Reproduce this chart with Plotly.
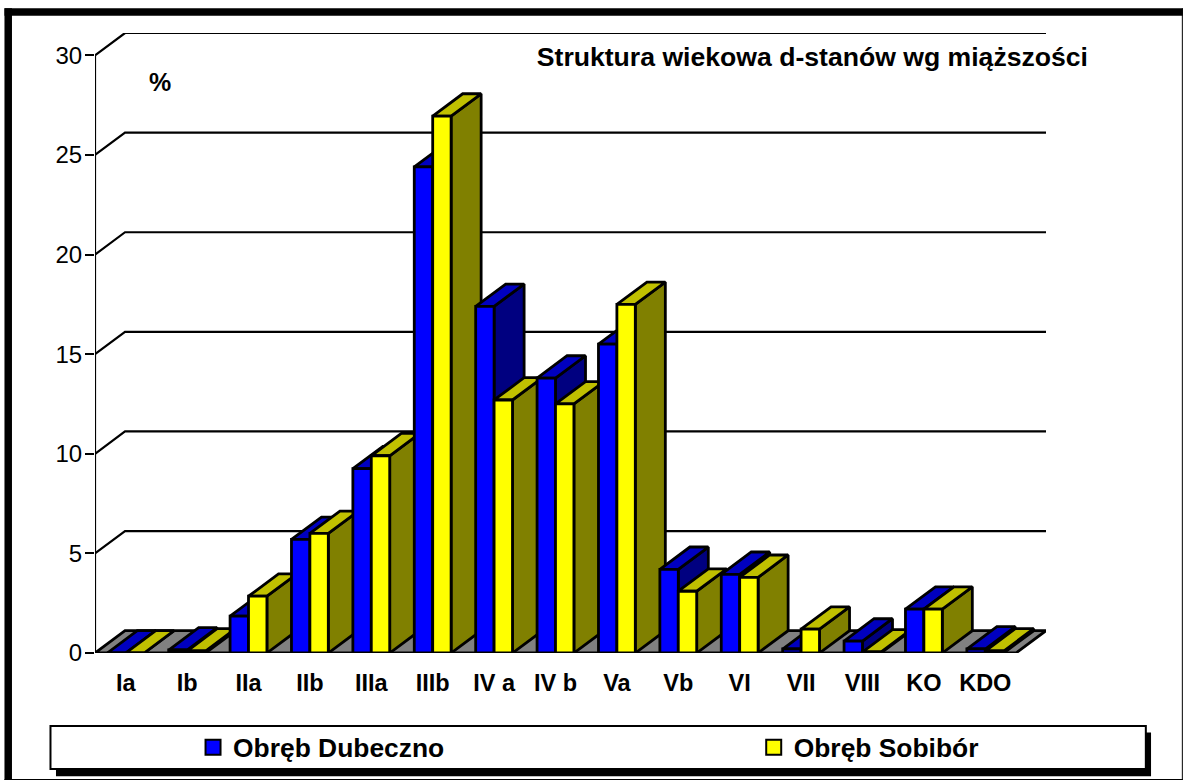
import plotly.graph_objects as go

categories = ["Ia", "Ib", "IIa", "IIb", "IIIa", "IIIb", "IV a", "IV b", "Va", "Vb", "VI", "VII", "VIII", "KO", "KDO"]
dubeczno = [0.0, 0.15, 1.85, 5.7, 9.25, 24.4, 17.4, 13.8, 15.5, 4.2, 3.95, 0.2, 0.6, 2.2, 0.2]
sobibor = [0.0, 0.1, 2.85, 6.0, 9.9, 26.95, 12.7, 12.5, 17.5, 3.1, 3.8, 1.2, 0.05, 2.2, 0.1]
y_ticks = [0, 5, 10, 15, 20, 25, 30]
title_text = "Struktura wiekowa d-stanów wg miąższości"
series_names = ["Obręb Dubeczno", "Obręb Sobibór"]

W, H = 1184, 783
L, R, T, B = 95, 1045.7, 33.3, 653.5
DX, DY = 0.489, 1.12           # chart depth in axis units
BAR = 0.3                      # bar width in category units
GAP = 0.2                      # side gap in category units
EDGE = dict(color="black", width=2.8)
GRID = dict(color="black", width=2.2)

BLUE = ("#0000FF", "#0000C0", "#000080")
YELLOW = ("#FFFF00", "#C0C000", "#808000")


def px(x):
    return (x - L) / (R - L)


def py(y):
    return (B - y) / (B - T)


fig = go.Figure()


def poly(xs, ys, fill):
    fig.add_trace(go.Scatter(
        x=xs + xs[:1], y=ys + ys[:1], mode="lines", fill="toself", fillcolor=fill,
        line=EDGE, showlegend=False, hoverinfo="skip", cliponaxis=False,
    ))


def bar(x0, v, colors):
    x1 = x0 + BAR
    poly([x1, x1 + DX, x1 + DX, x1], [0, DY, v + DY, v], colors[2])       # side
    poly([x0, x1, x1 + DX, x0 + DX], [v, v, v + DY, v + DY], colors[1])   # top
    poly([x0, x1, x1, x0], [0, 0, v, v], colors[0])                       # front


n = len(categories)

# y axis line and gridlines along the wall
fig.add_trace(go.Scatter(x=[0, 0], y=[0, y_ticks[-1]], mode="lines", line=GRID,
                         showlegend=False, hoverinfo="skip", cliponaxis=False))
for v in y_ticks[1:]:
    fig.add_trace(go.Scatter(x=[0, DX, n + DX], y=[v, v + DY, v + DY], mode="lines", line=GRID,
                             showlegend=False, hoverinfo="skip", cliponaxis=False))

# floor
poly([0, n, n + DX, DX], [0, 0, DY, DY], "#808080")

for i in range(n):
    bar(i + GAP, dubeczno[i], BLUE)
    bar(i + GAP + BAR, sobibor[i], YELLOW)

# legend entries
for name, col, lg in zip(series_names, (BLUE[0], YELLOW[0]), ("legend", "legend2")):
    fig.add_trace(go.Scatter(
        x=[None], y=[None], mode="markers", name=name, legend=lg, showlegend=True,
        marker=dict(symbol="square", size=15, color=col, line=dict(color="black", width=2)),
    ))

shapes = []


def rect(x0, y0, x1, y1, fill="black", line=None):
    shapes.append(dict(type="rect", xref="paper", yref="paper", layer="below",
                       x0=px(x0), x1=px(x1), y0=py(y0), y1=py(y1),
                       fillcolor=fill, line=line or dict(width=0)))


# outer frame
rect(4.5, 8.5, 12, 780.5)
rect(4.5, 8.5, 1182.5, 16)
rect(1181.5, 8.5, 1182.5, 780.5)
rect(4.5, 779.5, 1182.5, 780.5)
# legend box with shadow
rect(56, 733, 1150.7, 776.7)
rect(50.5, 726.5, 1145.5, 769.5, fill="white", line=dict(color="black", width=2))


def legend_at(x):
    return dict(x=px(x), xanchor="left", y=py(748), yanchor="middle", bgcolor="rgba(0,0,0,0)",
                borderwidth=0, font=dict(size=26.4, weight="bold"),
                itemclick=False, itemdoubleclick=False)


fig.update_layout(
    width=W, height=H,
    margin=dict(l=L, r=W - R, t=T, b=H - B, pad=0, autoexpand=False),
    paper_bgcolor="white", plot_bgcolor="rgba(0,0,0,0)",
    font=dict(family="Liberation Sans, Arial, sans-serif", color="black"),
    title=dict(text=title_text, x=1088 / W, xanchor="right", xref="container",
               y=1 - 57 / H, yanchor="middle", font=dict(size=26.6, color="black", weight="bold")),
    xaxis=dict(range=[0, n + DX], tickmode="array", tickvals=[i + 0.5 for i in range(n)],
               ticktext=categories, ticks="", showgrid=False, zeroline=False, showline=False,
               tickfont=dict(size=23.5, weight="bold"), ticklabelstandoff=13),
    yaxis=dict(range=[0, y_ticks[-1] + DY], tickmode="array", tickvals=y_ticks, ticks="outside",
               ticklen=9, tickwidth=2, tickcolor="black", showgrid=False, zeroline=False,
               showline=False, tickfont=dict(size=24), ticklabelstandoff=-2),
    showlegend=True,
    legend=legend_at(193),
    legend2=legend_at(753.5),
    shapes=shapes,
    annotations=[dict(text="%", xref="paper", yref="paper", x=px(160), y=py(82),
                      xanchor="center", yanchor="middle", showarrow=False,
                      font=dict(size=25, weight="bold"))],
)

fig.write_html("out.html", config={"displayModeBar": False},
               post_script="document.body.style.margin='0';")
